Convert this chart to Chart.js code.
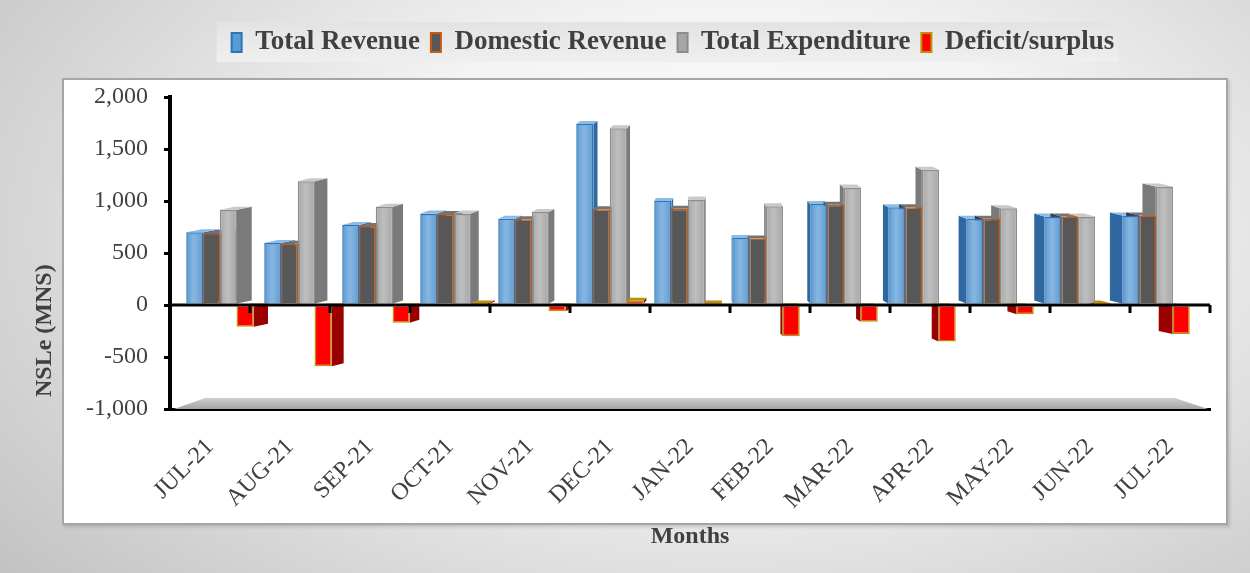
<!DOCTYPE html>
<html>
<head>
<meta charset="utf-8">
<script src="https://cdn.jsdelivr.net/npm/chart.js@4.4.1/dist/chart.umd.min.js"></script>
<style>
    html, body { margin: 0; padding: 0; }
    body {
        width: 1250px; height: 573px; position: relative; overflow: hidden;
        background: radial-gradient(ellipse 75% 95% at 58% 40%, #ffffff 0%, #f3f3f3 40%, #d6d6d6 75%, #c2c2c2 100%);
    }
    #cajaGrafica {
        position: absolute; left: 62px; top: 78px; width: 1162px; height: 443px;
        background: #fff; border: 2px solid #a6a6a6; box-shadow: 2px 2px 3px rgba(0,0,0,0.15);
    }
    #grafica { position: absolute; left: 0; top: 0; }
</style>
</head>
<body>
<div id="cajaGrafica"></div>
<canvas id="grafica" width="1250" height="573"></canvas>
<script>
const meses = ['JUL-21', 'AUG-21', 'SEP-21', 'OCT-21', 'NOV-21', 'DEC-21', 'JAN-22', 'FEB-22', 'MAR-22', 'APR-22', 'MAY-22', 'JUN-22', 'JUL-22'];
const ingresoTotal = [700, 595, 770, 880, 830, 1740, 1000, 645, 970, 940, 830, 850, 860];
const ingresoDomestico = [690, 590, 760, 875, 825, 920, 925, 640, 965, 940, 830, 850, 860];
const gastoTotal = [915, 1190, 945, 880, 895, 1700, 1015, 950, 1130, 1300, 930, 850, 1140];
const deficit = [-210, -590, -170, 5, -60, 40, 10, -300, -160, -350, -90, 5, -280];
const ticksY = [-1000, -500, 0, 500, 1000, 1500, 2000];

const fuente = 'Liberation Serif';
const colorTexto = '#404040';

const colores = [
    { frente: '#5b9bd5', borde: '#2e75b6', lado: '#2f67a0', tapa: '#8dbbe6', brillo: true },
    { frente: '#575757', borde: '#c55a11', lado: '#3a3a3a', tapa: '#747474', brillo: false },
    { frente: '#a6a6a6', borde: '#8c8c8c', lado: '#7a7a7a', tapa: '#c9c9c9', brillo: true },
    { frente: '#ff0000', borde: '#bf9000', lado: '#9a0000', tapa: '#b8900a', brillo: false }
];

// perspectiva aproximada del grafico 3D original
const puntoFuga = 720;
const factorProf = 0.03;
const altoProf = 3;
const centroPersp = 610;
const compresion = 0.975;

const poligono = (ctx, puntos) => {
    ctx.beginPath();
    ctx.moveTo(puntos[0][0], puntos[0][1]);
    puntos.slice(1).forEach(p => ctx.lineTo(p[0], p[1]));
    ctx.closePath();
    ctx.fill();
};

const medidasBarra = (barra) => {
    const { x, y, base, width } = barra.getProps(['x', 'y', 'base', 'width'], true);
    return {
        x, width,
        izq: x - width / 2,
        der: x + width / 2,
        arriba: Math.min(y, base),
        abajo: Math.max(y, base)
    };
};

const efecto3D = {
    id: 'efecto3D',
    beforeInit(chart) {
        const leyenda = chart.legend;
        if (leyenda) {
            const fitOriginal = leyenda.fit;
            leyenda.fit = function () {
                fitOriginal.call(this);
                this.height = 79;
            };
        }
    },
    afterLayout(chart) {
        if (chart.legend) chart.legend.left += 106;
    },
    afterDatasetsUpdate(chart) {
        // las caras frontales se juntan un poco hacia el centro, como en la vista 3D
        chart.data.datasets.forEach((ds, i) => {
            chart.getDatasetMeta(i).data.forEach(barra => {
                barra.x = centroPersp + compresion * (barra.x - centroPersp);
            });
        });
    },
    beforeDraw(chart) {
        const ctx = chart.ctx;
        const lg = chart.legend;
        const p = lg.options.labels.padding;
        const ancho = lg.lineWidths[0];
        const inicio = (lg.left + p + lg.right - ancho) / 2;
        ctx.save();
        const grad = ctx.createLinearGradient(0, lg.top + 4, 0, lg.top + 44);
        grad.addColorStop(0, '#e3e3e3');
        grad.addColorStop(1, '#efefef');
        ctx.fillStyle = grad;
        ctx.fillRect(inicio - 15, lg.top + 4, ancho - p + 18, 40);
        ctx.restore();
    },
    beforeDatasetsDraw(chart) {
        const ctx = chart.ctx;
        const area = chart.chartArea;
        const yPiso = chart.scales.y.getPixelForValue(ticksY[0]);
        ctx.save();

        const gradPiso = ctx.createLinearGradient(0, yPiso - 11, 0, yPiso);
        gradPiso.addColorStop(0, '#cfcfcf');
        gradPiso.addColorStop(1, '#a5a5a5');
        ctx.fillStyle = gradPiso;
        poligono(ctx, [[area.left + 4, yPiso], [area.left + 35, yPiso - 11], [area.right - 35, yPiso - 11], [area.right - 2, yPiso]]);

        chart.data.datasets.forEach((ds, i) => {
            const c = colores[i];
            chart.getDatasetMeta(i).data.forEach(barra => {
                const m = medidasBarra(barra);
                const dx = factorProf * (puntoFuga - m.x);
                const lx = dx > 0 ? m.der : m.izq;
                ctx.fillStyle = c.lado;
                poligono(ctx, [[lx, m.arriba], [lx + dx, m.arriba - altoProf], [lx + dx, m.abajo - altoProf], [lx, m.abajo]]);
                ctx.fillStyle = c.tapa;
                poligono(ctx, [[m.izq, m.arriba], [m.izq + dx, m.arriba - altoProf], [m.der + dx, m.arriba - altoProf], [m.der, m.arriba]]);
            });
        });
        ctx.restore();
    },
    afterDatasetsDraw(chart) {
        const ctx = chart.ctx;
        const area = chart.chartArea;
        ctx.save();

        chart.data.datasets.forEach((ds, i) => {
            if (!colores[i].brillo) return;
            chart.getDatasetMeta(i).data.forEach(barra => {
                const m = medidasBarra(barra);
                const g = ctx.createLinearGradient(m.izq, 0, m.der, 0);
                g.addColorStop(0, 'rgba(255,255,255,0)');
                g.addColorStop(0.45, 'rgba(255,255,255,0.28)');
                g.addColorStop(1, 'rgba(255,255,255,0)');
                ctx.fillStyle = g;
                ctx.fillRect(m.izq + 2, m.arriba + 2, m.width - 4, m.abajo - m.arriba - 2);
            });
        });

        const y0 = chart.scales.y.getPixelForValue(0);
        ctx.strokeStyle = '#000';
        ctx.lineWidth = 3;
        ctx.beginPath();
        ctx.moveTo(area.left, y0);
        ctx.lineTo(area.right, y0);
        const paso = (area.right - area.left) / meses.length;
        for (let i = 0; i <= meses.length; i++) {
            const x = area.left + i * paso;
            ctx.moveTo(x, y0);
            ctx.lineTo(x, y0 + 8);
        }
        ctx.stroke();
        ctx.restore();
    }
};

const ctx = document.getElementById('grafica').getContext('2d');
new Chart(ctx, {
    type: 'bar',
    data: {
        labels: meses,
        datasets: [
            { label: 'Total Revenue', data: ingresoTotal },
            { label: 'Domestic Revenue', data: ingresoDomestico },
            { label: 'Total Expenditure', data: gastoTotal },
            { label: 'Deficit/surplus', data: deficit }
        ].map((ds, i) => ({
            ...ds,
            backgroundColor: colores[i].frente,
            borderColor: colores[i].borde,
            borderWidth: 1.5,
            categoryPercentage: 0.86,
            barPercentage: 1
        }))
    },
    options: {
        responsive: false,
        animation: false,
        layout: {
            padding: { left: 30, right: 40, top: 18, bottom: 20 }
        },
        plugins: {
            tooltip: { enabled: false },
            legend: {
                position: 'top',
                labels: {
                    font: { family: fuente, size: 27, weight: 'bold' },
                    color: colorTexto,
                    boxWidth: 10,
                    boxHeight: 19,
                    padding: 11,
                    generateLabels: (chart) => chart.data.datasets.map((ds, i) => ({
                        text: ds.label,
                        fillStyle: colores[i].frente,
                        strokeStyle: colores[i].borde,
                        lineWidth: 2,
                        fontColor: colorTexto,
                        hidden: false,
                        datasetIndex: i
                    }))
                }
            }
        },
        scales: {
            x: {
                afterFit: (escala) => { escala.height = 144; },
                grid: { display: true, drawOnChartArea: false, drawTicks: false },
                border: { display: true, color: '#000', width: 3 },
                ticks: {
                    font: { family: fuente, size: 24 },
                    color: colorTexto,
                    minRotation: 45,
                    maxRotation: 45,
                    autoSkip: false,
                    padding: 24
                },
                title: {
                    display: true,
                    text: 'Months',
                    font: { family: fuente, size: 24, weight: 'bold' },
                    color: colorTexto,
                    padding: { top: 0, bottom: 2 }
                }
            },
            y: {
                min: ticksY[0],
                max: ticksY[ticksY.length - 1],
                afterFit: (escala) => { escala.width = 140; },
                grid: { drawOnChartArea: false, drawTicks: true, tickLength: 6, color: '#000', lineWidth: 3 },
                border: { display: true, color: '#000', width: 4 },
                ticks: {
                    stepSize: ticksY[1] - ticksY[0],
                    font: { family: fuente, size: 24 },
                    color: colorTexto,
                    padding: 16
                },
                title: {
                    display: true,
                    text: '  NSLe (MNS)',
                    align: 'start',
                    font: { family: fuente, size: 24, weight: 'bold' },
                    color: colorTexto,
                    padding: 0
                }
            }
        }
    },
    plugins: [efecto3D]
});
</script>
</body>
</html>
